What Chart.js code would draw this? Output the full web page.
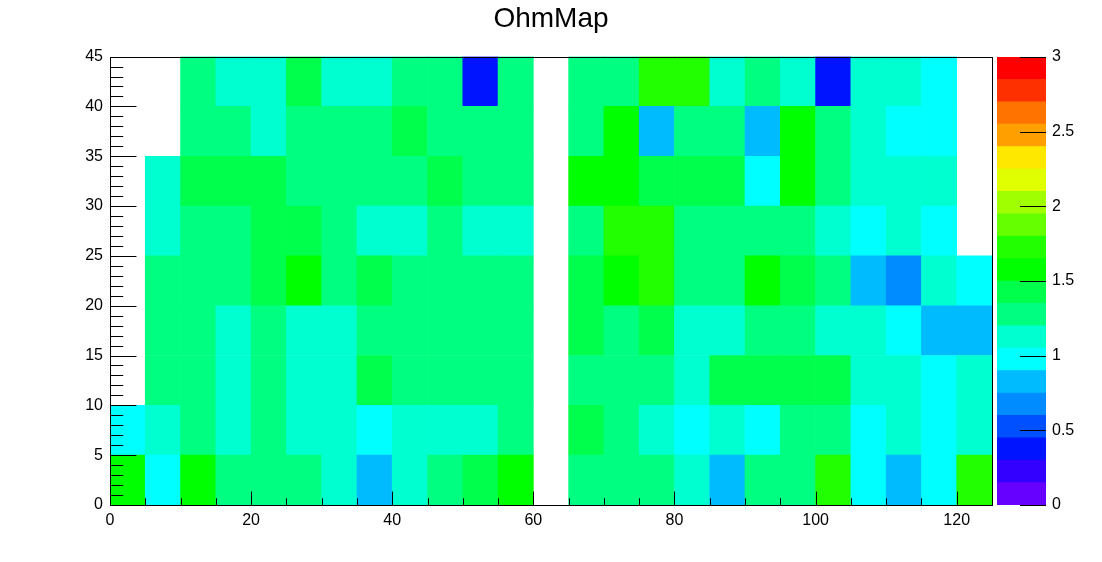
<!DOCTYPE html>
<html>
<head>
<meta charset="utf-8">
<title>OhmMap</title>
<script src="https://cdn.jsdelivr.net/npm/chart.js@4/dist/chart.umd.min.js"></script>
<style>
  body { margin: 0; background: #fff; }
  #wrap { position: relative; width: 1102px; height: 562px; }
  #wrap canvas { position: absolute; top: 0; }
  #main { left: 0; }
  #palette { left: 990px; }
</style>
</head>
<body>
<div id="wrap">
  <canvas id="main" width="1102" height="562"></canvas>
  <canvas id="palette" width="112" height="562"></canvas>
</div>
<script>
// bin lower edges, bin width 5
const xBins = [0, 5, 10, 15, 20, 25, 30, 35, 40, 45, 50, 55, 60, 65, 70, 75, 80, 85, 90, 95, 100, 105, 110, 115, 120];
const yBins = [0, 5, 10, 15, 20, 25, 30, 35, 40];
const binWidth = 5;

// ohm values, one array per y bin (bottom to top), null = empty bin
const row0 = [1.57, 0.98, 1.58, 1.28, 1.27, 1.29, 1.13, 0.82, 1.14, 1.28, 1.42, 1.56, null, 1.28, 1.27, 1.29, 1.13, 0.82, 1.28, 1.27, 1.72, 0.97, 0.83, 0.98, 1.73];
const row1 = [0.98, 1.12, 1.28, 1.13, 1.27, 1.14, 1.13, 0.97, 1.13, 1.14, 1.12, 1.28, null, 1.43, 1.27, 1.13, 0.98, 1.14, 0.97, 1.28, 1.29, 0.98, 1.13, 0.97, 1.12];
const row2 = [null, 1.28, 1.27, 1.13, 1.28, 1.14, 1.13, 1.42, 1.28, 1.27, 1.29, 1.28, null, 1.27, 1.28, 1.29, 1.13, 1.43, 1.42, 1.44, 1.42, 1.13, 1.14, 0.98, 1.13];
const row3 = [null, 1.28, 1.29, 1.13, 1.27, 1.12, 1.14, 1.28, 1.27, 1.28, 1.29, 1.27, null, 1.43, 1.28, 1.42, 1.13, 1.14, 1.28, 1.27, 1.13, 1.12, 0.98, 0.82, 0.83];
const row4 = [null, 1.27, 1.28, 1.29, 1.42, 1.57, 1.28, 1.43, 1.27, 1.28, 1.29, 1.28, null, 1.42, 1.58, 1.72, 1.28, 1.27, 1.57, 1.43, 1.28, 0.82, 0.68, 1.13, 0.98];
const row5 = [null, 1.13, 1.28, 1.27, 1.42, 1.43, 1.28, 1.13, 1.14, 1.27, 1.13, 1.12, null, 1.28, 1.73, 1.72, 1.27, 1.28, 1.29, 1.28, 1.13, 0.98, 1.12, 0.97, null];
const row6 = [null, 1.12, 1.43, 1.42, 1.44, 1.28, 1.27, 1.29, 1.28, 1.42, 1.27, 1.28, null, 1.57, 1.58, 1.43, 1.42, 1.44, 0.98, 1.57, 1.28, 1.13, 1.12, 1.14, null];
const row7 = [null, null, 1.28, 1.27, 1.13, 1.28, 1.29, 1.27, 1.43, 1.28, 1.27, 1.29, null, 1.28, 1.57, 0.82, 1.27, 1.28, 0.83, 1.58, 1.29, 1.13, 0.98, 0.97, null];
const row8 = [null, null, 1.28, 1.13, 1.12, 1.42, 1.13, 1.14, 1.28, 1.27, 0.38, 1.28, null, 1.27, 1.29, 1.72, 1.73, 1.13, 1.28, 1.12, 0.39, 1.13, 1.14, 0.98, null];
const rows = [row0, row1, row2, row3, row4, row5, row6, row7, row8];

// z range and palette (20 contour levels)
const zMin = 0;
const zMax = 3;
const paletteColors = [
  '#6600ff', '#3300ff', '#0014ff', '#0050ff', '#008cff',
  '#00bcff', '#00ffff', '#00ffd0', '#00ff80', '#00ff4c',
  '#00ff00', '#22ff00', '#66ff00', '#a0ff00', '#e0ff00',
  '#ffe800', '#ffa000', '#ff7400', '#ff3000', '#ff0000',
];
const levelStep = (zMax - zMin) / paletteColors.length;

const fontFamily = '"Liberation Sans", Arial, Helvetica, sans-serif';

function colorFor(v) {
  if (v === null) return 'rgba(0,0,0,0)';
  let idx = Math.floor((v - zMin) / levelStep);
  if (idx < 0) idx = 0;
  if (idx > paletteColors.length - 1) idx = paletteColors.length - 1;
  return paletteColors[idx];
}

// ROOT style tick marks drawn inward, plus frame
const rootAxes = {
  id: 'rootAxes',
  afterDatasetsDraw(chart) {
    const { ctx, chartArea, scales } = chart;
    const xs = scales.x;
    const ys = scales.y;
    const w = chartArea.right - chartArea.left;
    const h = chartArea.bottom - chartArea.top;
    ctx.save();
    ctx.strokeStyle = '#000';
    ctx.lineWidth = 1;
    ctx.beginPath();
    for (let v = xs.min; v <= xs.max; v += 5) {
      const px = Math.round(xs.getPixelForValue(v)) + 0.5;
      const len = v % 20 === 0 ? h * 0.03 : h * 0.015;
      ctx.moveTo(px, chartArea.bottom);
      ctx.lineTo(px, chartArea.bottom - len);
    }
    for (let v = ys.min; v <= ys.max; v += 1) {
      const py = Math.round(ys.getPixelForValue(v)) + 0.5;
      const len = v % 5 === 0 ? w * 0.03 : w * 0.015;
      ctx.moveTo(chartArea.left, py);
      ctx.lineTo(chartArea.left + len, py);
    }
    ctx.stroke();
    ctx.strokeRect(Math.round(chartArea.left) + 0.5, Math.round(chartArea.top) + 0.5,
      Math.round(w), Math.round(h));
    ctx.restore();
  },
};

const datasets = rows.map((row, j) => ({
  label: 'y ' + yBins[j],
  data: xBins.map((x) => ({ x: x + binWidth / 2, y: binWidth })),
  backgroundColor: row.map(colorFor),
  borderWidth: 0,
  barPercentage: 1,
  categoryPercentage: 1,
}));

new Chart(document.getElementById('main').getContext('2d'), {
  type: 'bar',
  data: { datasets },
  plugins: [rootAxes],
  options: {
    responsive: false,
    animation: false,
    events: [],
    layout: { padding: 0 },
    plugins: {
      legend: { display: false },
      tooltip: { enabled: false },
      title: {
        display: true,
        text: 'OhmMap',
        color: '#000',
        font: { family: fontFamily, size: 28, weight: 'normal' },
        padding: { top: 2, bottom: 21 },
      },
    },
    scales: {
      x: {
        type: 'linear',
        stacked: true,
        offset: false,
        min: 0,
        max: 125,
        grid: { display: false, drawTicks: false, offset: false },
        border: { display: false },
        ticks: {
          stepSize: 20,
          includeBounds: false,
          color: '#000',
          padding: 6,
          maxRotation: 0,
          font: { family: fontFamily, size: 16 },
        },
        afterFit(scale) { scale.height = 57; },
      },
      y: {
        type: 'linear',
        stacked: true,
        min: 0,
        max: 45,
        grid: { display: false, drawTicks: false },
        border: { display: false },
        ticks: {
          stepSize: 5,
          autoSkip: false,
          color: '#000',
          padding: 7,
          font: { family: fontFamily, size: 16 },
        },
        afterFit(scale) { scale.width = 110; },
      },
      // empty space on the right, where the palette sits
      yRight: {
        type: 'linear',
        position: 'right',
        grid: { display: false, drawTicks: false },
        border: { display: false },
        ticks: { display: false },
        afterFit(scale) { scale.width = 110; },
      },
    },
  },
});

// colour palette axis
const paletteTicks = {
  id: 'paletteTicks',
  afterDatasetsDraw(chart) {
    const { ctx, chartArea, scales } = chart;
    const ys = scales.y;
    const len = (chartArea.right - chartArea.left) * 0.53;
    ctx.save();
    ctx.strokeStyle = '#000';
    ctx.lineWidth = 1;
    ctx.beginPath();
    for (let v = zMin; v <= zMax; v += 0.5) {
      const py = Math.round(ys.getPixelForValue(v)) + 0.5;
      ctx.moveTo(chartArea.right, py);
      ctx.lineTo(chartArea.right - len, py);
    }
    ctx.stroke();
    ctx.restore();
  },
};

new Chart(document.getElementById('palette').getContext('2d'), {
  type: 'bar',
  data: {
    labels: ['z'],
    datasets: paletteColors.map((c, i) => ({
      label: 'level ' + i,
      data: [levelStep],
      backgroundColor: c,
      borderWidth: 0,
      barPercentage: 1,
      categoryPercentage: 1,
    })),
  },
  plugins: [paletteTicks],
  options: {
    responsive: false,
    animation: false,
    events: [],
    layout: { padding: { left: 7, right: 0, top: 57, bottom: 57 } },
    plugins: { legend: { display: false }, tooltip: { enabled: false } },
    scales: {
      x: { stacked: true, display: false },
      y: {
        stacked: true,
        position: 'right',
        min: zMin,
        max: zMax,
        grid: { display: false, drawTicks: false },
        border: { display: false },
        ticks: {
          stepSize: 0.5,
          color: '#000',
          padding: 6,
          font: { family: fontFamily, size: 16 },
          callback: (v) => String(Number(v.toFixed(2))),
        },
        afterFit(scale) { scale.width = 56; },
      },
    },
  },
});
</script>
</body>
</html>
